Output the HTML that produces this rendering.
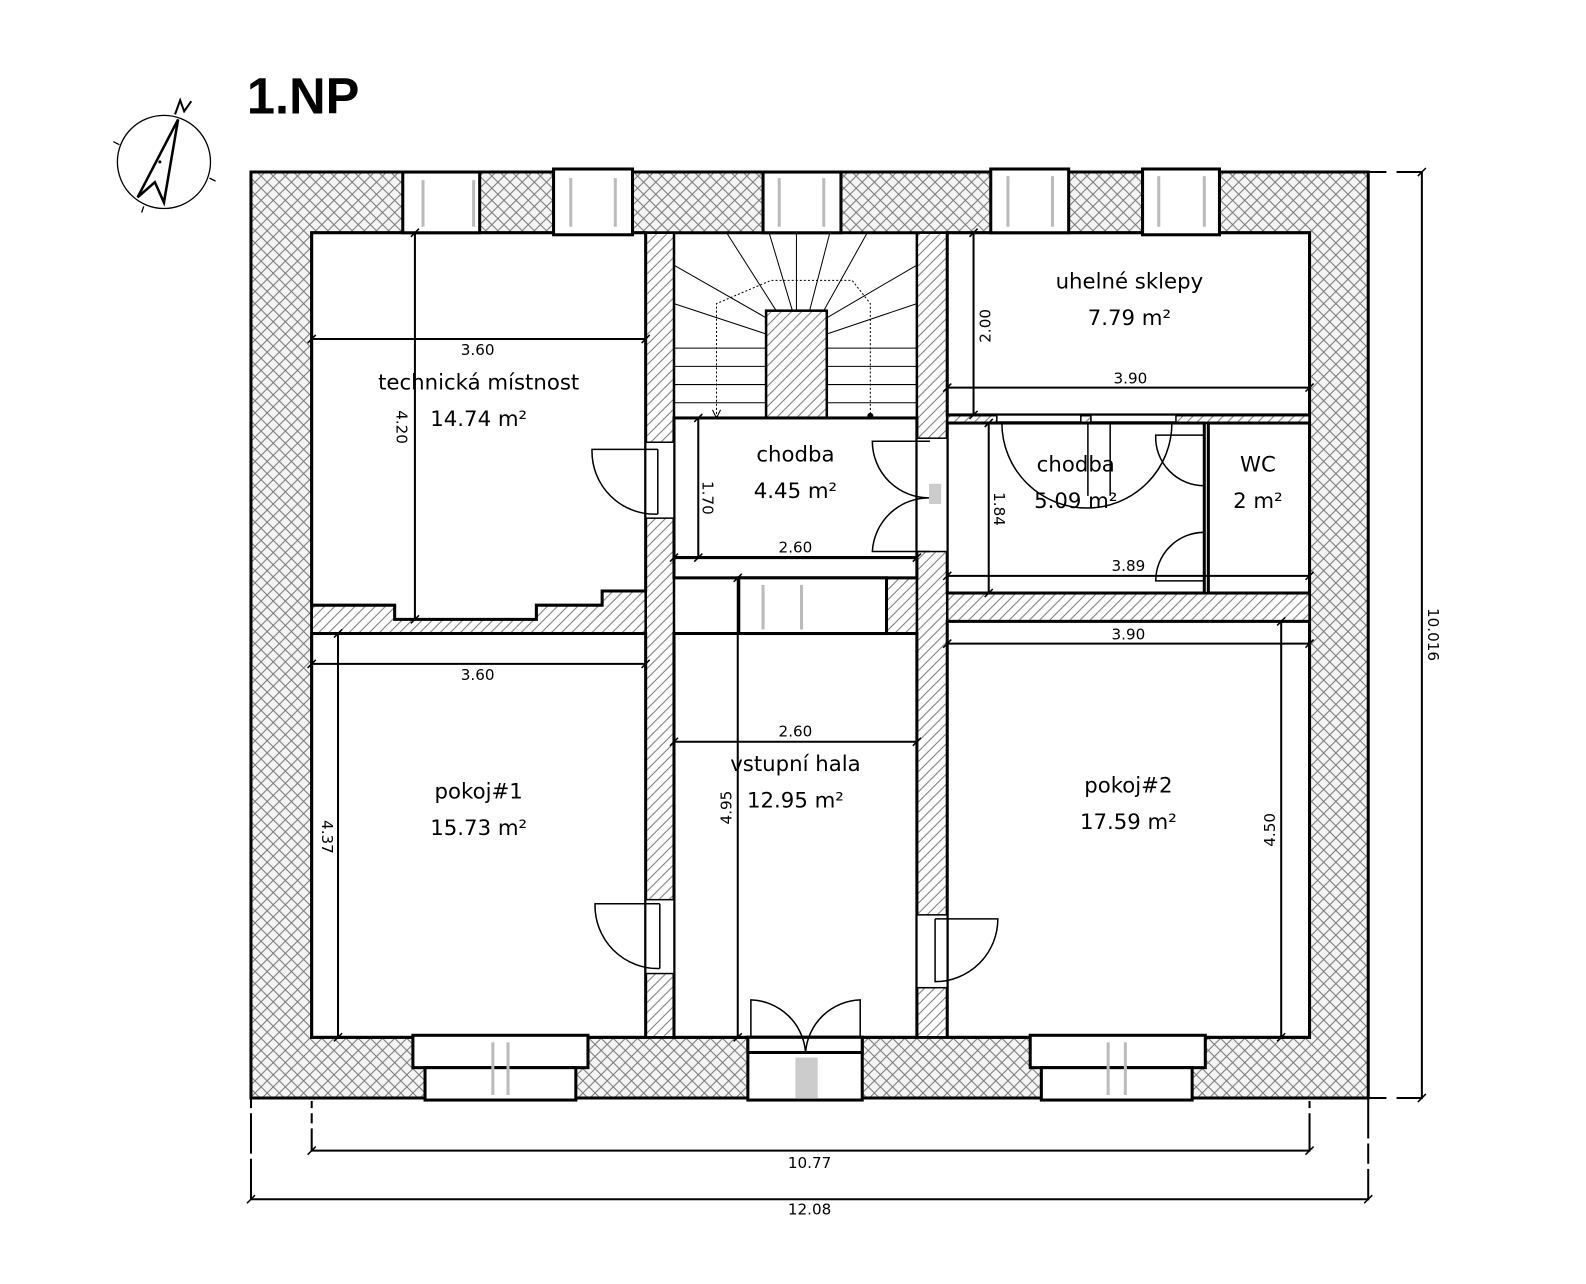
<!DOCTYPE html>
<html><head><meta charset="utf-8"><style>
html,body{margin:0;padding:0;background:#fff;width:1586px;height:1284px;overflow:hidden}
svg{display:block}
text{font-family:"DejaVu Sans","Liberation Sans",sans-serif;fill:#000}
</style></head><body>
<svg width="1586" height="1284" viewBox="0 0 1586 1284" xmlns="http://www.w3.org/2000/svg">
<defs>
<pattern id="xh" width="12" height="12" patternUnits="userSpaceOnUse">
<rect width="12" height="12" fill="#f4f4f4"/>
<path d="M0 0L12 12M12 0L0 12" stroke="#777" stroke-width="1"/>
</pattern>
<pattern id="dh" width="10" height="10" patternUnits="userSpaceOnUse">
<rect width="10" height="10" fill="#fff"/>
<path d="M0 10L10 0M-2 2L2 -2M8 12L12 8" stroke="#777" stroke-width="1"/>
</pattern>
</defs>
<g transform="scale(1.012)">
<text x="244" y="112" font-weight="bold" font-size="50" style="font-family:'Liberation Sans',sans-serif">1.NP</text>

<!-- compass -->
<g stroke="#000" fill="none" stroke-width="1.3">
<ellipse cx="162" cy="160" rx="46" ry="46"/>
<path d="M176 118L162 200L153 180L136 195Z" stroke-width="2.5"/>
<path d="M173 113L178 99L182 110L189 100" stroke-width="2"/>
<path d="M112 140L118 143M207 176L213 179M142 204L140 210"/>
</g>
<circle cx="158" cy="160" r="1.5"/>

<!-- outer wall -->
<path d="M248 170H1352V1085H248Z M308 230V1025H1294V230Z" fill="url(#xh)" fill-rule="evenodd" stroke="#000" stroke-width="3"/>

<!-- interior hatched walls -->
<g fill="url(#dh)" stroke="#000" stroke-width="2.5">
<rect x="638" y="230" width="28" height="795"/>
<rect x="906" y="230" width="30" height="795"/>
<path d="M308 598H390V612H530V598H595V584H638V626H308Z"/>
<rect x="936" y="586" width="358" height="28"/>
<rect x="936" y="410" width="358" height="8"/>
<rect x="876" y="571" width="30" height="55"/>
<rect x="757" y="307" width="60" height="106"/>
</g>

<!-- rooms -->
<g fill="#fff" stroke="#000" stroke-width="3">
<path d="M308 230H638V584H595V598H530V612H390V598H308Z"/>
<rect x="308" y="626" width="330" height="399"/>
<rect x="666" y="626" width="240" height="399"/>
<rect x="666" y="413" width="240" height="138"/>
<rect x="936" y="230" width="358" height="180"/>
<rect x="936" y="418" width="254" height="168"/>
<rect x="1194" y="418" width="100" height="168"/>
<rect x="936" y="614" width="358" height="411"/>
<rect x="666" y="551" width="240" height="20"/>
<rect x="730" y="571" width="146" height="55"/>
</g>

<!-- stairs -->
<g stroke="#000" stroke-width="1" fill="none">
<path d="M666 230V413H906V230"/>
<path d="M666 344H757M666 362H757M666 380H757M666 398H757"/>
<path d="M817 344H906M817 362H906M817 380H906M817 398H906"/>
<path d="M666 262L757 314M666 300L757 330M718 230L767 307M760 230L783 307M787 230V307M820 230L800 307M857 230L814 307M906 262L817 314M906 300L817 330"/>
<path d="M708 413V300L762 277H842L860 300V411" stroke-dasharray="2,2"/>
<path d="M704 405L708 413L712 405"/>
</g>
<circle cx="860" cy="411" r="3"/>

<!-- windows -->
<g fill="#fff" stroke="#000" stroke-width="3">
<rect x="398" y="170" width="76" height="60"/>
<rect x="547" y="167" width="78" height="65"/>
<rect x="754" y="170" width="77" height="60"/>
<rect x="979" y="167" width="77" height="63"/>
<rect x="1129" y="167" width="76" height="65"/>
<rect x="408" y="1023" width="173" height="32"/>
<rect x="420" y="1055" width="149" height="32"/>
<rect x="1018" y="1023" width="173" height="32"/>
<rect x="1029" y="1055" width="149" height="32"/>
<rect x="739" y="1025" width="113" height="62"/>
<rect x="739" y="1025" width="113" height="15"/>
</g>
<g stroke="#bbb" stroke-width="3">
<path d="M418 178V224M468 178V224M564 176V224M608 176V224M770 176V224M814 176V224M996 174V224M1040 174V224M1145 174V224M1190 174V224M754 578V622M792 578V622M487 1030V1082M502 1030V1082M1095 1030V1082M1112 1030V1082"/>
<rect x="786" y="1045" width="22" height="40" fill="#ccc" stroke="none"/>
</g>

<!-- doors -->
<g fill="#fff" stroke="#000" stroke-width="1.5">
<rect x="638" y="437" width="28" height="75"/>
<rect x="638" y="889" width="28" height="73"/>
<rect x="906" y="433" width="30" height="112"/>
<rect x="906" y="904" width="30" height="72"/>
<rect x="985" y="410" width="83" height="7"/>
<rect x="1078" y="410" width="84" height="7"/>
</g>
<g fill="none" stroke="#000" stroke-width="1.5">
<path d="M650 444H585A62 62 0 0 0 650 508M650 444V508"/>
<path d="M652 893H588A62 62 0 0 0 652 957M652 893V957"/>
<path d="M919 436H862A56 56 0 0 0 919 492M919 492A56 56 0 0 0 862 545H919"/>
<path d="M924 908H986A62 62 0 0 1 924 970V908"/>
<path d="M742 1025V988A56 56 0 0 1 796 1040M850 1025V988A56 56 0 0 0 796 1040"/>
<path d="M990 418A76 76 0 0 0 1158 418M1075 418V490M1097 418V490"/>
<path d="M1190 430H1142A48 48 0 0 0 1190 480"/>
<path d="M1190 526A48 48 0 0 0 1142 574H1190"/>
</g>
<rect x="918" y="478" width="12" height="20" fill="#ccc"/>

<!-- inner dims -->
<g stroke="#000" stroke-width="2" fill="none">
<path d="M308 335H638M410 230V612M308 656H638M334 626V1025M666 551H906M690 413V551M666 733H906M729 571V1025M936 383H1294M962 230V410M936 569H1294M977 418V586M936 636H1294M1266 614V1025"/>
</g>
<g stroke="#000" stroke-width="1.5">
<path d="M304 339L312 331M634 339L642 331M406 234L414 226M406 616L414 608M304 660L312 652M634 660L642 652M330 630L338 622M330 1029L338 1021M662 555L670 547M902 555L910 547M686 417L694 409M686 555L694 547M662 737L670 729M902 737L910 729M725 575L733 567M725 1029L733 1021M932 387L940 379M1290 387L1298 379M958 234L966 226M958 414L966 406M932 573L940 565M1290 573L1298 565M973 422L981 414M973 590L981 582M932 640L940 632M1290 640L1298 632M1262 618L1270 610M1262 1029L1270 1021"/>
</g>

<!-- outer dims -->
<g stroke="#000" stroke-width="2" fill="none">
<path d="M308 1088V1137H1294V1088M248 1062V1185H1352V1062"/>
<path d="M1352 170H1405V1085H1352"/>
</g>
<g stroke="#fff" stroke-width="4">
<path d="M308 1095V1100M308 1110V1115M248 1095V1100M248 1140V1145M1294 1095V1100M1352 1125V1130M1352 1150V1155M1370 170H1380M1370 1085H1380"/>
</g>
<g stroke="#000" stroke-width="1.5">
<path d="M304 1141L312 1133M1290 1141L1298 1133M244 1189L252 1181M1348 1189L1356 1181M1401 174L1409 166M1401 1089L1409 1081"/>
</g>

<!-- labels -->
<g font-size="15" text-anchor="middle">
<text x="472" y="351">3.60</text>
<text x="472" y="672">3.60</text>
<text x="786" y="546">2.60</text>
<text x="786" y="728">2.60</text>
<text x="1117" y="379">3.90</text>
<text x="1115" y="564">3.89</text>
<text x="1115" y="632">3.90</text>
<text x="800" y="1154">10.77</text>
<text x="800" y="1200">12.08</text>
<text transform="translate(392 422) rotate(90)">4.20</text>
<text transform="translate(318 827) rotate(90)">4.37</text>
<text transform="translate(694 492) rotate(90)">1.70</text>
<text transform="translate(982 503) rotate(90)">1.84</text>
<text transform="translate(1411 627) rotate(90)">10.016</text>
<text transform="translate(979 322) rotate(-90)">2.00</text>
<text transform="translate(723 798) rotate(-90)">4.95</text>
<text transform="translate(1260 820) rotate(-90)">4.50</text>
</g>
<g font-size="21" text-anchor="middle">
<text x="473" y="385">technická místnost</text>
<text x="473" y="421">14.74 m²</text>
<text x="786" y="456">chodba</text>
<text x="786" y="492">4.45 m²</text>
<text x="1116" y="285">uhelné sklepy</text>
<text x="1116" y="321">7.79 m²</text>
<text x="1063" y="466">chodba</text>
<text x="1063" y="502">5.09 m²</text>
<text x="1243" y="466">WC</text>
<text x="1243" y="502">2 m²</text>
<text x="473" y="789">pokoj#1</text>
<text x="473" y="825">15.73 m²</text>
<text x="786" y="762">vstupní hala</text>
<text x="786" y="798">12.95 m²</text>
<text x="1115" y="783">pokoj#2</text>
<text x="1115" y="819">17.59 m²</text>
</g>
</g>
</svg>
</body></html>
